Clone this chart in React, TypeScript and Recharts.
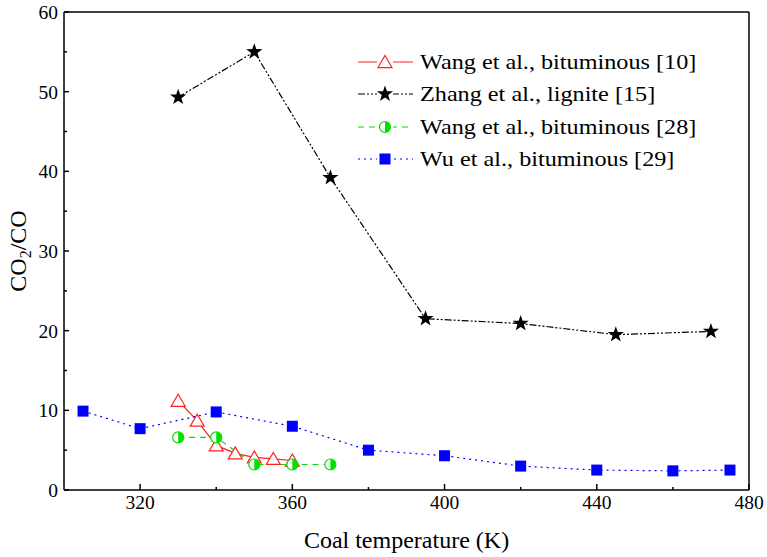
import React from "react";
import {
  ComposedChart,
  Line,
  XAxis,
  YAxis,
  ReferenceLine,
  Legend,
} from "recharts";

const wang10Temp = [330, 335, 340, 345, 350, 355, 360];
const wang10Ratio = [11.2, 8.7, 5.6, 4.6, 4.1, 3.9, 3.7];

const zhangTemp = [330, 350, 370, 395, 420, 445, 470];
const zhangRatio = [49.3, 55.0, 39.2, 21.5, 20.9, 19.5, 19.9];

const wang28Temp = [330, 340, 350, 360, 370];
const wang28Ratio = [6.6, 6.6, 3.2, 3.2, 3.2];

const wuTemp = [305, 320, 340, 360, 380, 400, 420, 440, 460, 475];
const wuRatio = [9.9, 7.7, 9.8, 8.0, 5.0, 4.3, 3.0, 2.5, 2.4, 2.5];

const xTicks = [320, 340, 360, 380, 400, 420, 440, 460, 480];
const xLabels = [320, 360, 400, 440, 480];
const yTicks = [0, 5, 10, 15, 20, 25, 30, 35, 40, 45, 50, 55, 60];
const yLabels = [0, 10, 20, 30, 40, 50, 60];

const toPoints = (xs: number[], ys: number[]) => xs.map((x, i) => ({ x, y: ys[i] }));

const FONT = "'Liberation Serif', 'Times New Roman', serif";

function Triangle({ cx, cy }: { cx: number; cy: number }) {
  const w = 7, h = 6.5;
  return (
    <path
      d={`M${cx},${cy - h} L${cx + w},${cy + h * 0.85} L${cx - w},${cy + h * 0.85} Z`}
      fill="#fff"
      stroke="#ff2020"
      strokeWidth={1.2}
    />
  );
}

function Star({ cx, cy }: { cx: number; cy: number }) {
  const R = 8.5, r = 3.4;
  const pts: string[] = [];
  for (let i = 0; i < 10; i++) {
    const rad = i % 2 === 0 ? R : r;
    const a = -Math.PI / 2 + (i * Math.PI) / 5;
    pts.push(`${cx + rad * Math.cos(a)},${cy + rad * Math.sin(a)}`);
  }
  return <polygon points={pts.join(" ")} fill="#000" />;
}

function HalfCircle({ cx, cy }: { cx: number; cy: number }) {
  const r = 5.5;
  return (
    <g>
      <circle cx={cx} cy={cy} r={r} fill="#fff" stroke="#00e000" strokeWidth={1.2} />
      <path d={`M${cx},${cy - r} A${r},${r} 0 0 1 ${cx},${cy + r} Z`} fill="#00e000" />
    </g>
  );
}

function Square({ cx, cy }: { cx: number; cy: number }) {
  const s = 5.5;
  return <rect x={cx - s} y={cy - s} width={s * 2} height={s * 2} fill="#0000ff" />;
}

const series = [
  { name: "Wang et al., bituminous [10]", data: toPoints(wang10Temp, wang10Ratio), color: "#ff2020", dash: undefined, Marker: Triangle },
  { name: "Zhang et al., lignite [15]", data: toPoints(zhangTemp, zhangRatio), color: "#000", dash: "7 2 2 2 2 2", Marker: Star },
  { name: "Wang et al., bituminous [28]", data: toPoints(wang28Temp, wang28Ratio), color: "#00e000", dash: "6 5", Marker: HalfCircle },
  { name: "Wu et al., bituminous [29]", data: toPoints(wuTemp, wuRatio), color: "#0000ff", dash: "2 4", Marker: Square },
];

function XTick(props: any) {
  const { x, y, payload } = props;
  const major = xLabels.includes(payload.value);
  return (
    <g>
      <line x1={x} x2={x} y1={y} y2={y - (major ? 6 : 3)} stroke="#000" strokeWidth={1.5} />
      {major && (
        <text x={x} y={y + 19} textAnchor="middle" fontFamily={FONT} fontSize={19.5} fill="#000">
          {payload.value}
        </text>
      )}
    </g>
  );
}

function YTick(props: any) {
  const { x, y, payload } = props;
  const major = yLabels.includes(payload.value);
  return (
    <g>
      <line x1={x} x2={x + (major ? 5 : 3)} y1={y} y2={y} stroke="#000" strokeWidth={1.5} />
      {major && (
        <text x={x - 6} y={y + 7} textAnchor="end" fontFamily={FONT} fontSize={19.5} fill="#000">
          {payload.value}
        </text>
      )}
    </g>
  );
}

function LegendBox() {
  return (
    <div style={{ fontFamily: FONT, fontSize: 22, color: "#000" }}>
      {series.map((s) => (
        <div key={s.name} style={{ display: "flex", alignItems: "center", height: 32.3 }}>
          <svg width={62} height={24} style={{ display: "block", flex: "none" }}>
            <line x1={3} x2={58} y1={12} y2={12} stroke={s.color} strokeWidth={1.2} strokeDasharray={s.dash} />
            <rect x={22} y={4} width={16} height={16} fill="#fff" />
            <s.Marker cx={30} cy={12} />
          </svg>
          <span
            style={{
              marginLeft: 3,
              whiteSpace: "nowrap",
              lineHeight: 1,
              display: "inline-block",
              transform: "scaleX(1.1)",
              transformOrigin: "left center",
            }}
          >
            {s.name}
          </span>
        </div>
      ))}
    </div>
  );
}

export default function App() {
  return (
    <div style={{ position: "absolute", left: 0, top: 0, background: "#fff" }}>
      <ComposedChart width={767} height={557} margin={{ top: 12, right: 18, left: 0, bottom: 0 }}>
        <XAxis
          type="number"
          dataKey="x"
          domain={[300, 480]}
          ticks={xTicks}
          allowDataOverflow
          height={67}
          tickSize={0}
          tickMargin={0}
          tickLine={false}
          tick={<XTick />}
          axisLine={{ stroke: "#000", strokeWidth: 1.5 }}
          interval={0}
          label={(p: any) => {
            const vb = p.viewBox || {};
            const cx = (vb.x ?? 64) + (vb.width ?? 685) / 2;
            return (
              <text x={cx} y={548} textAnchor="middle" fontFamily={FONT} fontSize={24} fill="#000">
                Coal temperature (K)
              </text>
            );
          }}
        />
        <YAxis
          type="number"
          domain={[0, 60]}
          ticks={yTicks}
          width={64}
          tickSize={0}
          tickMargin={0}
          tickLine={false}
          tick={<YTick />}
          axisLine={{ stroke: "#000", strokeWidth: 1.5 }}
          interval={0}
          label={(p: any) => {
            const vb = p.viewBox || {};
            const cy = (vb.y ?? 12) + (vb.height ?? 478) / 2;
            return (
              <text
                x={26}
                y={cy}
                transform={`rotate(-90, 26, ${cy})`}
                textAnchor="middle"
                fontFamily={FONT}
                fontSize={24}
                fill="#000"
              >
                CO
                <tspan dy={5} fontSize={16}>2</tspan>
                <tspan dy={-5}>/CO</tspan>
              </text>
            );
          }}
        />
        <ReferenceLine y={60} stroke="#000" strokeWidth={1.5} />
        <ReferenceLine x={480} stroke="#000" strokeWidth={1.5} />
        {series.map((s) => (
          <Line
            key={s.name}
            data={s.data}
            dataKey="y"
            name={s.name}
            type="linear"
            stroke={s.color}
            strokeWidth={1.2}
            strokeDasharray={s.dash}
            isAnimationActive={false}
            dot={(p: any) => <s.Marker key={p.index} cx={p.cx} cy={p.cy} />}
            activeDot={false}
          />
        ))}
        <Legend
          layout="horizontal"
          align="center"
          verticalAlign="middle"
          content={<LegendBox />}
          wrapperStyle={{ position: "absolute", left: 355, top: 46, width: 400 }}
        />
      </ComposedChart>
    </div>
  );
}
